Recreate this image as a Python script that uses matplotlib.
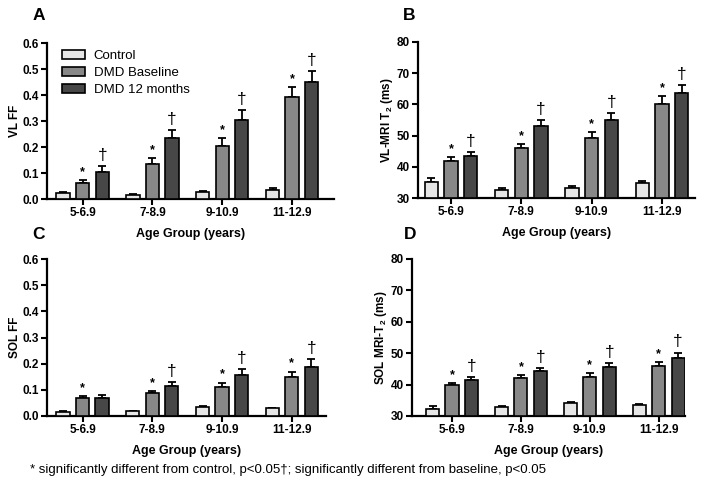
import matplotlib
matplotlib.use("Agg")
import matplotlib.pyplot as plt
import numpy as np
from matplotlib.patches import Patch

plt.rcParams['font.family'] = ['Liberation Sans', 'DejaVu Sans']
plt.rcParams['mathtext.fontset'] = 'custom'
plt.rcParams['mathtext.rm'] = 'Liberation Sans:bold'
plt.rcParams['mathtext.bf'] = 'Liberation Sans:bold'
plt.rcParams['mathtext.default'] = 'bf'

groups = ["5-6.9", "7-8.9", "9-10.9", "11-12.9"]
series = ["Control", "DMD Baseline", "DMD 12 months"]

# Panel A: VL FF
a_ctrl = [0.022, 0.017, 0.028, 0.035]
a_ctrl_err = [0.004, 0.002, 0.004, 0.007]
a_base = [0.061, 0.136, 0.204, 0.394]
a_base_err = [0.012, 0.021, 0.031, 0.038]
a_m12 = [0.104, 0.236, 0.305, 0.450]
a_m12_err = [0.022, 0.030, 0.038, 0.041]

# Panel B: VL-MRI T2
b_ctrl = [35.1, 32.7, 33.3, 34.7]
b_ctrl_err = [1.2, 0.4, 0.4, 0.9]
b_base = [41.9, 45.9, 49.2, 60.2]
b_base_err = [1.1, 1.5, 2.1, 2.5]
b_m12 = [43.4, 53.0, 55.0, 63.8]
b_m12_err = [1.2, 2.1, 2.2, 2.5]

# Panel C: SOL FF
c_ctrl = [0.016, 0.019, 0.033, 0.029]
c_ctrl_err = [0.002, 0.002, 0.004, 0.003]
c_base = [0.068, 0.086, 0.110, 0.148]
c_base_err = [0.009, 0.010, 0.018, 0.022]
c_m12 = [0.070, 0.115, 0.155, 0.188]
c_m12_err = [0.009, 0.014, 0.024, 0.029]

# Panel D: SOL MRI-T2
d_ctrl = [32.3, 32.9, 34.2, 33.6]
d_ctrl_err = [0.8, 0.4, 0.4, 0.2]
d_base = [39.8, 42.1, 42.5, 45.9]
d_base_err = [0.8, 1.0, 1.1, 1.4]
d_m12 = [41.4, 44.3, 45.5, 48.4]
d_m12_err = [0.9, 0.9, 1.4, 1.8]

# significance flags (baseline *, 12 months †)
a_star = [1, 1, 1, 1]; a_dag = [1, 1, 1, 1]
b_star = [1, 1, 1, 1]; b_dag = [1, 1, 1, 1]
c_star = [1, 1, 1, 1]; c_dag = [0, 1, 1, 1]
d_star = [1, 1, 1, 1]; d_dag = [1, 1, 1, 1]

colors = ["#e6e6e6", "#888888", "#474747"]

W, H = 704, 488
fig = plt.figure(figsize=(W / 100, H / 100), dpi=100)


def rect(l, r, t, b):
    return [l / W, 1 - b / H, (r - l) / W, (b - t) / H]


def panel(r, ctrl, ctrl_e, base, base_e, m12, m12_e, star, dag,
          ylim, yticks, yfmt, ylabel, letter, letter_xy, xlim):
    ax = fig.add_axes(rect(*r))
    x = np.arange(len(groups))
    offs = [-0.28, 0.0, 0.28]
    vals = [ctrl, base, m12]
    errs = [ctrl_e, base_e, m12_e]
    for i in range(3):
        xi = x + offs[i]
        v = np.array(vals[i]); e = np.array(errs[i])
        ax.errorbar(xi, v, yerr=[np.zeros_like(e), e], fmt='none',
                    ecolor='black', elinewidth=1.3, capsize=3.2,
                    capthick=1.3, zorder=2)
        ax.bar(xi, v - ylim[0], bottom=ylim[0], width=0.19, color=colors[i],
               edgecolor='black', linewidth=1.2, zorder=3,
               label=series[i])
    span = ylim[1] - ylim[0]
    for j in range(len(groups)):
        if star[j]:
            top = base[j] + base_e[j]
            ax.text(x[j] + offs[1], top + span * 0.012, '*', ha='center',
                    va='bottom', fontsize=9, fontweight='bold')
        if dag[j]:
            top = m12[j] + m12_e[j]
            ax.text(x[j] + offs[2], top + span * 0.02, '\u2020', ha='center',
                    va='bottom', fontsize=12.5)
    ax.set_ylim(*ylim)
    ax.set_xlim(*xlim)
    ax.set_yticks(yticks)
    ax.set_yticklabels([yfmt.format(t) for t in yticks])
    ax.set_xticks(x)
    ax.set_xticklabels(groups)
    for s in ['top', 'right']:
        ax.spines[s].set_visible(False)
    for s in ['left', 'bottom']:
        ax.spines[s].set_linewidth(1.6)
    ax.tick_params(direction='out', width=1.5, length=4, labelsize=8.5,
                   pad=2)
    for lab in ax.get_xticklabels() + ax.get_yticklabels():
        lab.set_fontweight('bold')
    ax.set_xlabel("Age Group (years)", fontsize=9, fontweight='bold',
                  labelpad=6)
    ax.set_ylabel(ylabel, fontsize=8.5, fontweight='bold', labelpad=1)
    fig.text(letter_xy[0] / W, 1 - letter_xy[1] / H, letter, fontsize=12.5,
             fontweight='bold', ha='center', va='center')
    return ax


axA = panel((47, 334, 43, 199), a_ctrl, a_ctrl_err, a_base, a_base_err,
            a_m12, a_m12_err, a_star, a_dag, (0, 0.6),
            [0, 0.1, 0.2, 0.3, 0.4, 0.5, 0.6], "{:.1f}", "VL FF", "A",
            (38.5, 16), (-0.51, 3.6))
axB = panel((418, 695, 42, 198), b_ctrl, b_ctrl_err, b_base, b_base_err,
            b_m12, b_m12_err, b_star, b_dag, (30, 80),
            [30, 40, 50, 60, 70, 80], "{:d}", "VL-MRI T$_2$ (ms)", "B",
            (409.5, 15), (-0.47, 3.47))
axC = panel((47, 326, 259, 416), c_ctrl, c_ctrl_err, c_base, c_base_err,
            c_m12, c_m12_err, c_star, c_dag, (0, 0.6),
            [0, 0.1, 0.2, 0.3, 0.4, 0.5, 0.6], "{:.1f}", "SOL FF", "C",
            (38.5, 234), (-0.51, 3.49))
axD = panel((412, 685, 259, 416), d_ctrl, d_ctrl_err, d_base, d_base_err,
            d_m12, d_m12_err, d_star, d_dag, (30, 80),
            [30, 40, 50, 60, 70, 80], "{:d}", "SOL MRI-T$_2$ (ms)", "D",
            (410.5, 234), (-0.58, 3.38))

handles = [Patch(facecolor=colors[i], edgecolor='black', linewidth=1.2,
                 label=series[i]) for i in range(3)]
axA.legend(handles=handles, loc='upper left', bbox_to_anchor=(0.03, 1.0),
           frameon=False, fontsize=9.5, handlelength=1.7, handleheight=0.75,
           handletextpad=0.7, labelspacing=0.35, borderaxespad=0.1)

fig.text(30 / W, 1 - 470 / H,
         "* significantly different from control, p<0.05\u2020; "
         "significantly different from baseline, p<0.05",
         fontsize=9.5, ha='left', va='center')

fig.savefig("out.png", dpi=100)
